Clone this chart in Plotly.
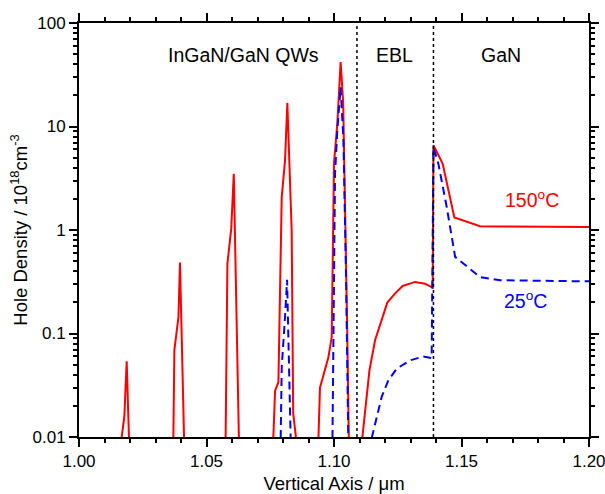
import math
import plotly.graph_objects as go

# 150 C (red, solid) - None separates segments that drop below the axis floor
x_150 = [1.0167, 1.0178, 1.0187, 1.0196, None,
         1.0370, 1.0374, 1.0390, 1.0396, 1.0412, None,
         1.0575, 1.0582, 1.0597, 1.0607, 1.0627, None,
         1.0762, 1.0769, 1.0782, 1.0795, 1.0808, 1.0817, 1.0834, 1.0840, 1.0851, None,
         1.0939, 1.0945, 1.0978, 1.0991, 1.1000, 1.1013, 1.1026, 1.1036, 1.1052, 1.1058, None,
         1.1111, 1.1139, 1.1161, 1.1183, 1.1209, 1.1239, 1.1269, 1.1318, 1.1357, 1.1387,
         1.1390, 1.1426, 1.1472, 1.1573, 1.1650, 1.2000]
y_150 = [0.0098, 0.016, 0.054, 0.0098, None,
         0.0098, 0.069, 0.144, 0.484, 0.0098, None,
         0.0098, 0.473, 1.03, 3.5, 0.0098, None,
         0.0098, 0.028, 0.034, 2.08, 4.7, 16.9, 0.99, 0.017, 0.0098, None,
         0.0098, 0.030, 0.059, 0.092, 4.4, 10.7, 42.0, 17.0, 0.1, 0.0098, None,
         0.0098, 0.044, 0.086, 0.129, 0.199, 0.243, 0.288, 0.315, 0.303, 0.277,
         6.6, 4.38, 1.32, 1.09, 1.08, 1.07]

# 25 C (blue, dashed)
x_25 = [1.0791, 1.0795, 1.0808, 1.0816, 1.0830, None,
        1.0994, 1.0997, 1.1004, 1.1013, 1.1026, 1.1037, 1.1047, 1.1056, None,
        1.1148, 1.1187, 1.1213, 1.1246, 1.1298, 1.1350, 1.1383,
        1.1390, 1.1409, 1.1442, 1.1475, 1.1514, 1.1573, 1.1651, 1.2000]
y_25 = [0.0098, 0.047, 0.145, 0.33, 0.0098, None,
        0.0098, 0.1, 3.5, 9.2, 24.0, 7.4, 0.38, 0.0098, None,
        0.0098, 0.0244, 0.0353, 0.0458, 0.055, 0.060, 0.058,
        6.3, 4.4, 1.67, 0.55, 0.456, 0.35, 0.327, 0.319]

boundaries = [1.109, 1.139]
regions = ["InGaN/GaN QWs", "EBL", "GaN"]
region_x = [1.0647, 1.1239, 1.1655]

label_150 = ("150<sup>o</sup>C", 1.1775, 2.0)
label_25 = ("25<sup>o</sup>C", 1.1752, 0.21)

y_ticks = [0.01, 0.1, 1, 10, 100]
y_ticktext = ["0.01", "0.1", "1", "10", "100"]
y_minor = [m * 10.0 ** e for e in range(-2, 2) for m in range(2, 10)]

font_family = "Arial, Liberation Sans, sans-serif"

fig = go.Figure()
fig.add_trace(go.Scatter(x=x_150, y=y_150, mode="lines", connectgaps=False,
                         line=dict(color="#FF0000", width=2), name="150°C"))
fig.add_trace(go.Scatter(x=x_25, y=y_25, mode="lines", connectgaps=False,
                         line=dict(color="#0000FF", width=2, dash="8px,5px"), name="25°C"))

for b in boundaries:
    fig.add_shape(type="line", x0=b, x1=b, y0=0, y1=1, xref="x", yref="paper",
                  line=dict(color="black", width=1.5, dash="dot"))

for t, xv in zip(regions, region_x):
    fig.add_annotation(x=xv, y=0.955, xref="x", yref="paper", text=t, showarrow=False,
                       font=dict(size=19.5, color="black", family=font_family))

for (t, xv, yv), col in ((label_150, "#FF0000"), (label_25, "#0000FF")):
    fig.add_annotation(x=xv, y=math.log10(yv), xref="x", yref="y", text=t, showarrow=False,
                       font=dict(size=19.5, color=col, family=font_family))

axis_common = dict(showline=True, linecolor="black", linewidth=2, mirror="allticks",
                   ticks="outside", tickcolor="black", tickwidth=2, ticklen=8,
                   showgrid=False, zeroline=False, automargin=False,
                   ticklabeloverflow="allow",
                   tickfont=dict(size=17, color="black", family=font_family),
                   title_font=dict(size=18.5, color="black", family=font_family))

fig.update_xaxes(range=[1.0, 1.2], tickmode="linear", tick0=1.0, dtick=0.05, tickformat=".2f",
                 minor=dict(dtick=0.01, tick0=1.0, ticks="outside", ticklen=4, tickwidth=1.5,
                            tickcolor="black", showgrid=False),
                 title_text="Vertical Axis / μm", title_standoff=12, **axis_common)
fig.update_yaxes(type="log", range=[-2, 2], tickmode="array", tickvals=y_ticks, ticktext=y_ticktext,
                 minor=dict(tickmode="array", tickvals=y_minor, ticks="outside", ticklen=4,
                            tickwidth=1.5, tickcolor="black", showgrid=False),
                 title_text="Hole Density / 10<sup>18</sup>cm<sup>-3</sup>", title_standoff=0,
                 **axis_common)

fig.update_layout(width=605, height=494, margin=dict(l=79, r=16, t=23, b=57),
                  paper_bgcolor="white", plot_bgcolor="white", showlegend=False,
                  font=dict(family=font_family))

fig.write_html("out.html")
